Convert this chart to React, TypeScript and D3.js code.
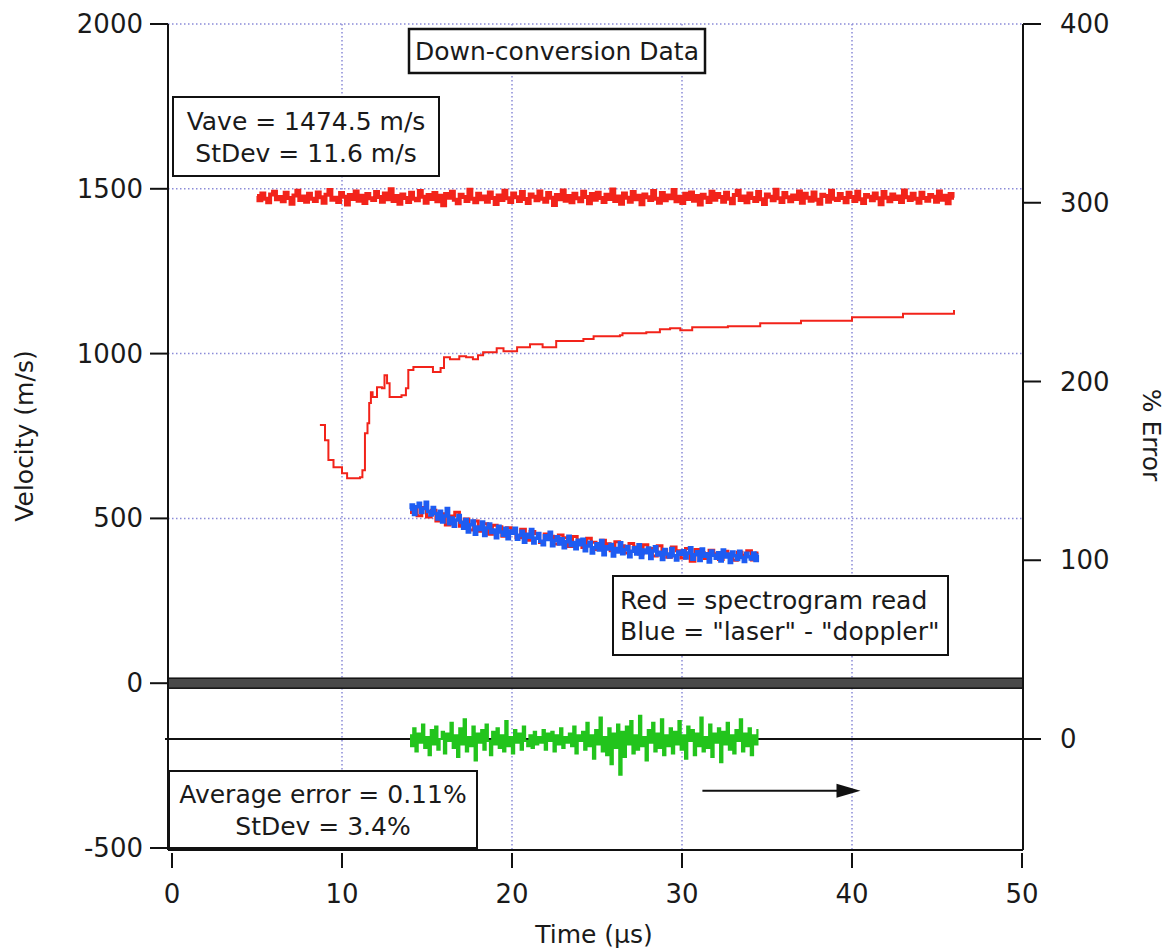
import React from 'react';
import * as d3 from 'd3';

const W = 1167;
const H = 949;

// axes
const xTicks = [0, 10, 20, 30, 40, 50];
const leftTicks = [2000, 1500, 1000, 500, 0, -500];
const rightTicks = [400, 300, 200, 100, 0];
const gridX = [10, 20, 30, 40];
const gridY = [2000, 1500, 1000, 500, 0];

// red band of down-conversion velocity (m/s), 5 .. 46 us
const bandRange = [5, 46];
const bandValues = [
  1478,1465,1486,1470,1459,1483,1491,1468,1475,1462,1488,1472,1455,1480,1494,1466,1477,1461,1485,1470,
  1463,1489,1474,1458,1482,1496,1467,1473,1460,1487,1476,1452,1481,1469,1492,1464,1479,1457,1484,1471,
  1466,1490,1475,1461,1486,1468,1499,1463,1478,1455,1483,1472,1460,1488,1470,1465,1493,1476,1458,1481,
  1469,1487,1462,1479,1450,1484,1473,1491,1467,1456,1482,1475,1463,1497,1470,1459,1485,1468,1477,1461,
  1489,1472,1454,1480,1466,1494,1471,1460,1486,1474,1463,1490,1469,1457,1483,1476,1465,1492,1470,1461,
  1487,1473,1451,1481,1468,1495,1464,1478,1459,1485,1471,1462,1491,1475,1456,1484,1467,1488,1472,1460,
  1482,1469,1498,1463,1477,1455,1486,1473,1461,1490,1468,1479,1453,1483,1474,1466,1493,1470,1458,1487,
  1465,1480,1471,1496,1462,1476,1457,1485,1469,1489,1464,1478,1452,1482,1473,1460,1491,1467,1484,1475,
  1461,1488,1470,1456,1481,1494,1466,1477,1459,1486,1472,1463,1490,1468,1454,1483,1476,1465,1497,1471,
  1460,1487,1474,1462,1480,1469,1492,1458,1485,1473,1464,1489,1467,1455,1482,1478,1461,1494,1470,1466,
  1484,1472,1459,1488,1475,1463,1491,1468,1457,1481,1476,1465,1486,1471,1453,1490,1473,1462,1483,1469,
  1477,1460,1495,1474,1466,1485,1470,1458,1488,1472,1464,1481,1476,1461,1492,1467,1479,1456,1484,1473,
];

// red curve (spectrogram read of the lower velocity)
const curveTimes = [
  8.7, 9.0, 9.2, 9.5, 10.0, 10.3, 11.06, 11.2, 11.35, 11.5, 11.6, 11.7, 11.8, 12.06, 12.35, 12.5,
  12.65, 12.8, 13.1, 13.5, 13.76, 13.9, 14.2, 14.7, 15.2, 15.35, 15.8, 16.0, 16.35, 16.9, 17.3, 17.7,
  18.0, 18.3, 19.1, 19.5, 20.0, 20.3, 21.06, 21.8, 22.6, 24.2, 24.8, 26.35, 26.5, 27.9, 28.7, 29.3,
  29.9, 30.6, 32.7, 34.6, 37.0, 40.0, 43.0, 46.0,
];
const curveValues = [
  783, 737, 677, 655, 637, 622, 625, 646, 758, 789, 850, 883, 868, 898, 895, 934,
  910, 868, 868, 874, 895, 950, 959, 959, 959, 944, 956, 989, 983, 992, 989, 983,
  995, 1004, 1016, 1007, 1007, 1019, 1028, 1019, 1038, 1044, 1053, 1056, 1062, 1065, 1074, 1077,
  1071, 1080, 1083, 1092, 1100, 1110, 1121, 1132,
];

// decaying velocity, 14 .. 34.5 us
const decayRange = [14, 34.5];
const blueValues = [
  528,541,512,535,546,518,530,549,521,510,533,
  515,498,522,489,507,530,484,501,476,495,509,
  488,470,497,459,481,492,452,474,466,489,448,471,483,457,465,441,476,459,449,470,438,462,
  455,470,437,449,461,428,452,443,466,425,440,454,431,420,447,436,458,417,433,444,422,438,411,429,446,418,427,408,434,
  420,437,402,416,428,395,411,423,404,433,390,414,407,421,386,409,398,426,393,405,415,384,400,411,392,420,381,404,396,410,378,401,414,389,397,375,406,392,383,409,387,374,398,391,
  402,380,395,411,376,390,399,372,407,385,393,368,401,388,379,396,371,404,383,392,366,398,387,375,400,381,369,394,384,377,395,372,389,
];
const redDecayValues = [
  518,530,508,533,504,525,492,514,480,507,519,476,498,465,492,461,484,452,479,475,
  446,472,465,441,467,434,460,454,427,453,446,422,450,441,415,445,434,412,440,428,
  406,434,423,402,429,417,395,424,413,392,420,409,386,417,405,382,413,402,380,409,
  370,406,396,378,403,393,375,400,390,373,397,388,402,374,395,
];

// percent error, 14 .. 34.5 us
const errorValues = [
  2,-4,6,-7,3,-2,8,-5,1,-9,5,-3,7,-6,0,4,-8,3,-1,9,
  -5,2,-10,6,-3,11,-7,1,-4,7,-12,3,-2,5,-6,8,-1,-9,4,-3,
  6,-5,2,-7,10,-4,1,-8,5,-2,3,-6,7,-1,-4,2,-5,4,-3,1,
  -2,5,-6,3,-1,4,-7,2,-3,6,-5,1,-2,3,-4,7,-8,2,-1,4,
  -6,9,-4,2,-11,5,-3,12,-7,1,-9,6,-14,3,-5,8,-20,4,-10,7,
  -3,10,-8,2,-6,13,-4,1,-12,5,-2,9,-7,3,-5,11,-9,2,-4,6,
  -8,4,-3,10,-6,2,-11,7,-1,5,-9,3,-4,12,-7,1,-5,8,-10,3,
  -2,6,-13,4,-3,9,-6,2,-8,5,-1,11,-7,3,-4,6,-9,2,-3,5,
];

const RED = '#f2231a';
const BLUE = '#1e5cf2';
const GREEN = '#22c41c';
const GRID = '#8b8bd8';
const FONT = '"DejaVu Sans", Verdana, sans-serif';

const sampled = (vals: number[], range: number[]) =>
  vals.map((v, i) => [range[0] + (i * (range[1] - range[0])) / (vals.length - 1), v] as [number, number]);

export default function App() {
  const x = d3.scaleLinear().domain([0, 50]).range([172, 1022]);
  const yL = d3.scaleLinear().domain([-500, 2000]).range([848, 24]);
  const yR = d3.scaleLinear().domain([0, 400]).range([739, 24]);

  const left = 168;
  const right = 1023;
  const top = yL(2000);
  const bottom = 850;

  const stepL = d3
    .line<[number, number]>()
    .x((d) => x(d[0]))
    .y((d) => yL(d[1]))
    .curve(d3.curveStepAfter);
  const noisyL = d3
    .line<[number, number]>()
    .x((d) => x(d[0]))
    .y((d) => yL(d[1]))
    .curve(d3.curveStep);
  const noisyR = d3
    .line<[number, number]>()
    .x((d) => x(d[0]))
    .y((d) => yR(d[1]))
    .curve(d3.curveStep);

  const band = sampled(bandValues, bandRange);
  const curve = curveTimes.map((t, i) => [t, curveValues[i]] as [number, number]);
  const blue = sampled(blueValues, decayRange);
  const redDecay = sampled(redDecayValues, decayRange);
  const err = sampled(errorValues, decayRange);

  const txt = { fontFamily: FONT, fontSize: 25, fill: '#1a1a1a' } as const;

  const arrowY = yR(-29);
  const ax0 = x(31.2);
  const ax1 = x(40.5);

  return (
    <svg
      width={W}
      height={H}
      viewBox={`0 0 ${W} ${H}`}
      style={{ position: 'absolute', left: 0, top: 0, display: 'block', background: '#fff' }}
    >
      <rect x={0} y={0} width={W} height={H} fill="#fff" />
      {/* grid */}
      {gridX.map((g) => (
        <line key={'gx' + g} x1={x(g)} x2={x(g)} y1={top} y2={bottom} stroke={GRID} strokeWidth={1.5} strokeDasharray="1.5 2.5" />
      ))}
      {gridY.map((g) => (
        <line key={'gy' + g} x1={left} x2={right} y1={yL(g)} y2={yL(g)} stroke={GRID} strokeWidth={1.5} strokeDasharray="1.5 2.5" />
      ))}

      {/* thick zero bar of left axis */}
      <rect x={left} y={yL(0) - 5} width={right - left} height={10} fill="#4a4a4a" stroke="#111" strokeWidth={1.5} />
      {/* zero line of right axis */}
      <line x1={left - 3} x2={right + 18} y1={yR(0)} y2={yR(0)} stroke="#111" strokeWidth={1.8} />

      {/* data */}
      <path d={noisyL(band) || ''} fill="none" stroke={RED} strokeWidth={4} />
      <path d={stepL(curve) || ''} fill="none" stroke={RED} strokeWidth={2} />
      <path d={noisyL(redDecay) || ''} fill="none" stroke={RED} strokeWidth={3} />
      <path d={noisyL(blue) || ''} fill="none" stroke={BLUE} strokeWidth={3.5} />
      <path d={noisyR(err) || ''} fill="none" stroke={GREEN} strokeWidth={2.2} />

      {/* arrow */}
      <line x1={ax0} x2={ax1 - 12} y1={arrowY} y2={arrowY} stroke="#111" strokeWidth={2} />
      <path d={`M${ax1 - 24},${arrowY - 7} L${ax1},${arrowY} L${ax1 - 24},${arrowY + 7} Z`} fill="#111" />

      {/* axes */}
      <line x1={left} x2={left} y1={top} y2={bottom} stroke="#111" strokeWidth={2} />
      <line x1={right} x2={right} y1={top} y2={bottom} stroke="#111" strokeWidth={2} />
      <line x1={left} x2={right} y1={bottom} y2={bottom} stroke="#111" strokeWidth={2} />
      {leftTicks.map((t) => (
        <g key={'lt' + t}>
          <line x1={left - 18} x2={left} y1={yL(t)} y2={yL(t)} stroke="#111" strokeWidth={2} />
          <text x={left - 25} y={yL(t) + 9} textAnchor="end" style={{ ...txt, fontSize: 26 }}>
            {t}
          </text>
        </g>
      ))}
      {rightTicks.map((t) => (
        <g key={'rt' + t}>
          <line x1={right} x2={right + 18} y1={yR(t)} y2={yR(t)} stroke="#111" strokeWidth={2} />
          <text x={right + 37} y={yR(t) + 9} textAnchor="start" style={{ ...txt, fontSize: 26 }}>
            {t}
          </text>
        </g>
      ))}
      {xTicks.map((t) => (
        <g key={'xt' + t}>
          <line x1={x(t)} x2={x(t)} y1={bottom + 3} y2={bottom + 18} stroke="#111" strokeWidth={2} />
          <text x={x(t)} y={bottom + 53} textAnchor="middle" style={{ ...txt, fontSize: 26 }}>
            {t}
          </text>
        </g>
      ))}

      {/* axis labels */}
      <text transform={`translate(33,436) rotate(-90)`} textAnchor="middle" style={txt}>
        Velocity (m/s)
      </text>
      <text transform={`translate(1143,435) rotate(90)`} textAnchor="middle" style={txt}>
        % Error
      </text>
      <text x={594} y={943} textAnchor="middle" style={txt}>
        Time (µs)
      </text>

      {/* annotation boxes */}
      <rect x={409} y={29} width={296} height={44} fill="#fff" stroke="#111" strokeWidth={2.5} />
      <text x={557} y={60} textAnchor="middle" style={txt}>
        Down-conversion Data
      </text>

      <rect x={173} y={97} width={266} height={79} fill="#fff" stroke="#111" strokeWidth={2} />
      <text x={306} y={130} textAnchor="middle" style={txt}>
        Vave = 1474.5 m/s
      </text>
      <text x={306} y={162} textAnchor="middle" style={txt}>
        StDev = 11.6 m/s
      </text>

      <rect x={613} y={576} width={335} height={79} fill="#fff" stroke="#111" strokeWidth={2} />
      <text x={620} y={609} textAnchor="start" style={txt}>
        Red = spectrogram read
      </text>
      <text x={620} y={640} textAnchor="start" style={txt}>
        Blue = "laser" - "doppler"
      </text>

      <rect x={169} y={771} width={308} height={77} fill="#fff" stroke="#111" strokeWidth={2} />
      <text x={323} y={803} textAnchor="middle" style={txt}>
        Average error = 0.11%
      </text>
      <text x={323} y={835} textAnchor="middle" style={txt}>
        StDev = 3.4%
      </text>
    </svg>
  );
}
